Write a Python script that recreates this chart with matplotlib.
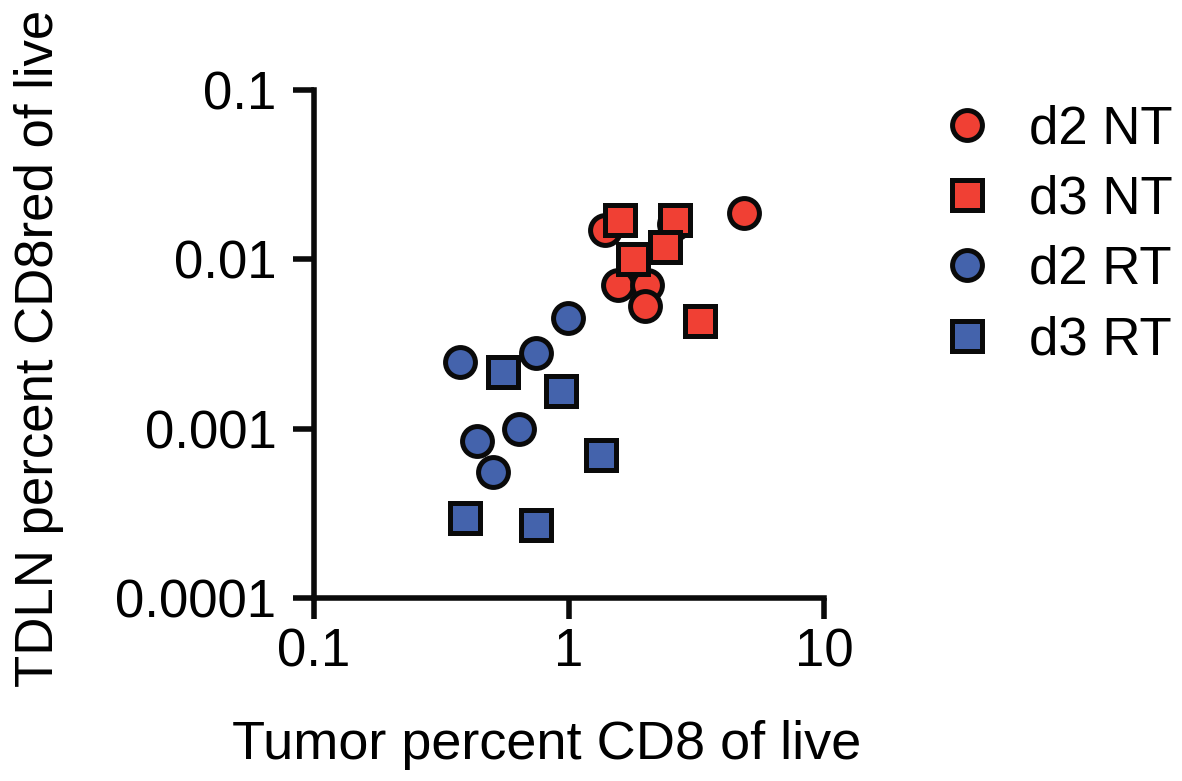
import matplotlib
matplotlib.use("Agg")
import matplotlib.pyplot as plt

plt.rcParams['font.family'] = ['Liberation Sans', 'DejaVu Sans']

# Data
d2_nt_x = [1.38, 2.58, 1.56, 2.02, 1.99, 4.86]
d2_nt_y = [0.0149, 0.0161, 0.0071, 0.0071, 0.00527, 0.0187]
d3_nt_x = [1.585, 2.60, 2.38, 1.78, 3.26]
d3_nt_y = [0.0170, 0.0170, 0.0119, 0.0100, 0.0043]
d2_rt_x = [0.99, 0.374, 0.742, 0.637, 0.436, 0.503]
d2_rt_y = [0.00448, 0.00249, 0.00278, 0.00099, 0.00085, 0.000557]
d3_rt_x = [0.551, 0.93, 1.335, 0.391, 0.742]
d3_rt_y = [0.00217, 0.00168, 0.00070, 0.000297, 0.00027]

series_labels = ["d2 NT", "d3 NT", "d2 RT", "d3 RT"]
x_ticks = [0.1, 1, 10]
x_tick_labels = ["0.1", "1", "10"]
y_ticks = [0.0001, 0.001, 0.01, 0.1]
y_tick_labels = ["0.0001", "0.001", "0.01", "0.1"]

RED = '#F04034'
BLUE = '#4463AC'
EDGE = '#0a0a0a'

fig = plt.figure(figsize=(11.82, 7.81), dpi=100)
ax = fig.add_axes([314/1182, 1-598/781, (824-314)/1182, (598-90)/781])

common = dict(linestyle='none', markeredgecolor=EDGE, markeredgewidth=3.6, clip_on=False)
ax.plot(d2_nt_x, d2_nt_y, marker='o', markersize=21.5, markerfacecolor=RED, label=series_labels[0], **common)
ax.plot(d3_nt_x, d3_nt_y, marker='s', markersize=21, markerfacecolor=RED, label=series_labels[1], **common)
ax.plot(d2_rt_x, d2_rt_y, marker='o', markersize=21.5, markerfacecolor=BLUE, label=series_labels[2], **common)
ax.plot(d3_rt_x, d3_rt_y, marker='s', markersize=21, markerfacecolor=BLUE, label=series_labels[3], **common)

ax.set_xscale('log')
ax.set_yscale('log')
ax.set_xlim(0.1, 10)
ax.set_ylim(0.0001, 0.1)
ax.set_xticks(x_ticks)
ax.set_xticklabels(x_tick_labels)
ax.set_yticks(y_ticks)
ax.set_yticklabels(y_tick_labels)
ax.minorticks_off()

for s in ['top', 'right']:
    ax.spines[s].set_visible(False)
for s in ['left', 'bottom']:
    ax.spines[s].set_linewidth(4.0)
    ax.spines[s].set_color(EDGE)
    ax.spines[s].set_capstyle('projecting')
ax.tick_params(axis='both', which='major', direction='out', length=15, width=4.0,
               color=EDGE, labelsize=38)
ax.tick_params(axis='x', pad=6)
ax.tick_params(axis='y', pad=12)

ax.set_xlabel("Tumor percent CD8 of live", fontsize=39)
ax.xaxis.set_label_coords(0.457, -0.240)
ax.set_ylabel("TDLN percent CD8red of live", fontsize=38)
ax.yaxis.set_label_coords(-0.490, 0.492)

leg = fig.legend(loc='upper left', bbox_to_anchor=(919/1182, 1-83/781), frameon=False,
                 fontsize=38, handletextpad=0.68, labelspacing=0.385, handlelength=1.0,
                 borderaxespad=0)

fig.savefig('out.png', dpi=100)
